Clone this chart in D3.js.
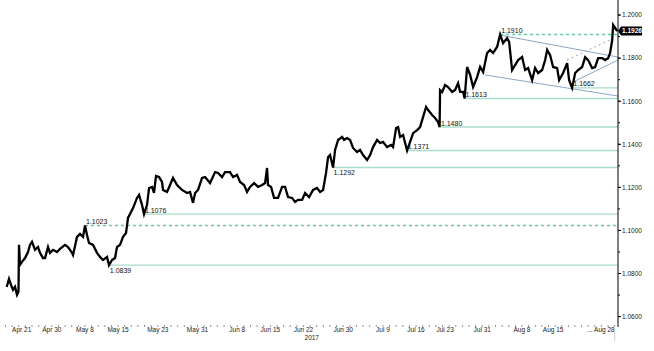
<!DOCTYPE html>
<html>
<head>
<meta charset="utf-8">
<script src="https://cdn.jsdelivr.net/npm/d3@7"></script>
<style>
  body { margin: 0; background: #fff; }
  text { font-family: "Liberation Sans", Arial, sans-serif; }
</style>
</head>
<body>
<svg id="chart" width="654" height="351"></svg>
<script>
// trading-day index (0 = Thu Apr 20 2017) and EUR/USD price
const dayIndex = [
  0.18, 0.53, 0.83, 1.13, 1.44, 1.74, 1.96, 2.04, 2.19, 2.49, 2.95, 3.40, 3.70, 4.00, 4.46, 4.91,
  5.21, 5.66, 5.97, 6.42, 6.72, 7.18, 7.78, 8.23, 8.99, 9.44, 10.05, 10.20, 10.80, 11.25, 11.71,
  12.01, 12.31, 12.61, 13.22, 13.82, 14.27, 14.73, 15.33, 15.63, 16.09, 16.54, 16.84, 17.30, 17.75,
  18.20, 18.50, 18.96, 19.26, 19.86, 20.17, 20.62, 20.92, 21.37, 21.68, 22.13, 22.43, 22.73, 23.19,
  23.64, 23.79, 24.40, 24.85, 25.30, 25.91, 26.66, 27.42, 27.87, 28.32, 28.63, 29.08, 29.68, 30.14,
  30.89, 31.65, 32.10, 32.70, 33.16, 33.91, 34.37, 34.97, 35.42, 36.03, 36.48, 36.93, 37.54, 38.14,
  38.75, 39.20, 39.50, 39.65, 40.11, 40.56, 41.16, 41.77, 42.22, 42.67, 43.28, 43.73, 44.18, 44.79,
  45.24, 45.85, 46.45, 47.05, 47.51, 47.96, 48.41, 48.72, 49.02, 49.47, 49.77, 50.23, 50.83, 51.13,
  51.59, 52.04, 52.49, 53.10, 53.55, 54.00, 54.61, 55.06, 55.51, 56.12, 56.57, 57.02, 57.63, 58.23,
  58.53, 58.99, 59.29, 59.59, 60.05, 60.35, 60.65, 61.10, 61.56, 62.16, 62.61, 63.07, 63.52, 63.82,
  64.43, 64.88, 65.33, 65.56, 65.63, 65.94, 66.39, 66.84, 67.45, 67.90, 68.35, 68.66, 69.11, 69.34,
  69.71, 70.17, 70.62, 71.22, 71.68, 72.13, 72.73, 73.19, 73.64, 74.24, 74.70, 75.15, 75.76, 76.06,
  76.51, 76.96, 77.42, 78.02, 78.47, 78.93, 79.53, 79.98, 80.44, 81.04, 81.50, 81.80, 82.25, 82.70,
  83.31, 83.61, 84.21, 84.82, 85.12, 85.57, 86.03, 86.48, 87.08, 87.54, 87.99, 88.59, 89.05, 89.50,
  90.11, 90.56, 91.01, 91.31, 91.62, 91.77, 92.07, 92.37
];
const closePrice = [
  1.0738, 1.0775, 1.0747, 1.0724, 1.0738, 1.0701, 1.0715, 1.0933, 1.0840, 1.0854, 1.0872, 1.0900, 1.0933, 1.0947, 1.0910, 1.0923,
  1.0896, 1.0872, 1.0872, 1.0923, 1.0896, 1.0910, 1.0900, 1.0914, 1.0933, 1.0923, 1.0896, 1.0886, 1.0970, 1.0984, 1.0970,
  1.1023, 1.0979, 1.0942, 1.0933, 1.0896, 1.0877, 1.0863, 1.0877, 1.0839, 1.0863, 1.0872, 1.0923, 1.0933, 1.0970,
  1.0988, 1.1058, 1.1086, 1.1104, 1.1151, 1.1165, 1.1118, 1.1076, 1.1118, 1.1197, 1.1202, 1.1174, 1.1253, 1.1248,
  1.1225, 1.1188, 1.1179, 1.1211, 1.1244, 1.1211, 1.1188, 1.1174, 1.1179, 1.1128, 1.1174, 1.1188, 1.1244, 1.1248,
  1.1220, 1.1271, 1.1267, 1.1248, 1.1271, 1.1271, 1.1248, 1.1258, 1.1225, 1.1211, 1.1179, 1.1202, 1.1220, 1.1202,
  1.1211, 1.1220, 1.1290, 1.1211, 1.1202, 1.1151, 1.1151, 1.1202, 1.1202, 1.1155, 1.1151, 1.1132, 1.1142, 1.1142,
  1.1174, 1.1155, 1.1188, 1.1197, 1.1179, 1.1188, 1.1267, 1.1341, 1.1350, 1.1292, 1.1374, 1.1420, 1.1434, 1.1420,
  1.1429, 1.1420, 1.1383, 1.1364, 1.1374, 1.1350, 1.1327, 1.1350, 1.1387, 1.1420, 1.1406, 1.1411, 1.1387, 1.1397,
  1.1387, 1.1476, 1.1480, 1.1434, 1.1443, 1.1406, 1.1371, 1.1411, 1.1452, 1.1466, 1.1480, 1.1527, 1.1573, 1.1559,
  1.1536, 1.1522, 1.1503, 1.1480, 1.1652, 1.1643, 1.1675, 1.1666, 1.1643, 1.1652, 1.1684, 1.1643, 1.1643, 1.1613,
  1.1759, 1.1722, 1.1666, 1.1712, 1.1759, 1.1735, 1.1824, 1.1838, 1.1824, 1.1852, 1.1910, 1.1870, 1.1893, 1.1875,
  1.1745, 1.1768, 1.1791, 1.1805, 1.1745, 1.1754, 1.1698, 1.1754, 1.1731, 1.1745, 1.1791, 1.1838, 1.1814, 1.1759,
  1.1754, 1.1698, 1.1731, 1.1777, 1.1698, 1.1662, 1.1731, 1.1745, 1.1759, 1.1805, 1.1791, 1.1754, 1.1759, 1.1800,
  1.1800, 1.1791, 1.1800, 1.1824, 1.1884, 1.1954, 1.1940, 1.1926
];

// support / resistance levels
const levelPrices = [1.1910, 1.1662, 1.1613, 1.1480, 1.1371, 1.1292, 1.1076, 1.1023, 1.0839];
const levelStartDay = [74.7, 85.6, 69.3, 65.6, 60.6, 49.4, 20.9, 12.0, 15.6];
const levelDashed = [true, false, false, false, false, false, false, true, false];
const levelLabelBelow = [false, false, false, false, false, true, false, false, true];

// trend lines: [startDay, startPrice, endDay, endPrice]
const trendLines = [
  [74.7, 1.1907, 92.5, 1.1805],
  [72.4, 1.1722, 92.5, 1.1624],
  [85.7, 1.1689, 92.5, 1.1791]
];
const dottedTrend = [84.8, 1.1791, 91.6, 1.1889];

// axis labels
const xTickDays = [1, 7, 12, 17, 23, 29, 35, 40, 45, 51, 57, 62, 66.4, 72, 78, 82.7, 92];
const xTickLabels = ["Apr 21", "Apr 30", "May 8", "May 15", "May 23", "May 31", "Jun 8", "Jun 15",
  "Jun 22", "Jun 30", "Jul 9", "Jul 16", "Jul 23", "Jul 31", "Aug 8", "Aug 15", "... Aug 28"];
const yearLabel = "2017";
const yTicks = [1.06, 1.08, 1.10, 1.12, 1.14, 1.16, 1.18, 1.20];
const lastPrice = 1.1926;

const svg = d3.select("#chart");
const plotRight = 618, plotBottom = 325;

const x = d3.scaleLinear().domain([0, 92.5]).range([5.5, plotRight]);
const y = d3.scaleLinear().domain([1.0561, 1.2070]).range([plotBottom, 0]);

// horizontal levels
levelPrices.forEach((p, i) => {
  svg.append("line")
    .attr("x1", x(levelStartDay[i])).attr("x2", plotRight)
    .attr("y1", y(p)).attr("y2", y(p))
    .attr("stroke", levelDashed[i] ? "#62c9a9" : "#a8dccb")
    .attr("stroke-width", 1.4)
    .attr("stroke-dasharray", levelDashed[i] ? "3,3" : null);
});

// trend lines
trendLines.forEach(t => {
  svg.append("line")
    .attr("x1", x(t[0])).attr("y1", y(t[1]))
    .attr("x2", x(t[2])).attr("y2", y(t[3]))
    .attr("stroke", "#8da7c2").attr("stroke-width", 1);
});
svg.append("line")
  .attr("x1", x(dottedTrend[0])).attr("y1", y(dottedTrend[1]))
  .attr("x2", x(dottedTrend[2])).attr("y2", y(dottedTrend[3]))
  .attr("stroke", "#8da7c2").attr("stroke-width", 1)
  .attr("stroke-dasharray", "2,3");

// price line
const series = dayIndex.map((d, i) => [d, closePrice[i]]);
svg.append("path")
  .datum(series)
  .attr("fill", "none")
  .attr("stroke", "#000")
  .attr("stroke-width", 2.3)
  .attr("stroke-linejoin", "miter")
  .attr("d", d3.line().x(d => x(d[0])).y(d => y(d[1])));

// level labels
levelPrices.forEach((p, i) => {
  svg.append("text")
    .attr("x", x(levelStartDay[i]) + 1)
    .attr("y", levelLabelBelow[i] ? y(p) + 7.5 : y(p) - 1.5)
    .attr("font-size", 7)
    .attr("fill", "#111")
    .text(p.toFixed(4));
});

// right axis
const yAxis = svg.append("g").attr("transform", `translate(${plotRight},0)`);
yAxis.append("line").attr("x1", 0).attr("x2", 0).attr("y1", 0).attr("y2", plotBottom + 2)
  .attr("stroke", "#000").attr("stroke-width", 1);
const minorY = d3.range(1.06, 1.2051, 0.01);
yAxis.selectAll("line.minor").data(minorY).join("line")
  .attr("class", "minor")
  .attr("x1", 0).attr("x2", 2)
  .attr("y1", d => y(d)).attr("y2", d => y(d))
  .attr("stroke", "#000");
yAxis.selectAll("line.major").data(yTicks).join("line")
  .attr("class", "major")
  .attr("x1", 0).attr("x2", 3)
  .attr("y1", d => y(d)).attr("y2", d => y(d))
  .attr("stroke", "#000");
yAxis.selectAll("text").data(yTicks).join("text")
  .attr("x", 4).attr("y", d => y(d) + 2.3)
  .attr("font-size", 6.5).attr("fill", "#222")
  .text(d => d.toFixed(4));

// last price tag
const ly = y(lastPrice);
svg.append("path")
  .attr("d", `M${plotRight},${ly} L${plotRight + 3},${ly - 4.5} H${plotRight + 24} V${ly + 4.5} H${plotRight + 3} Z`)
  .attr("fill", "#000");
svg.append("text")
  .attr("x", plotRight + 4).attr("y", ly + 2.4)
  .attr("font-size", 6.5).attr("fill", "#fff").attr("font-weight", "bold")
  .text(lastPrice.toFixed(4));

// bottom axis: a tick per trading day
svg.selectAll("line.xtick").data(d3.range(0, 93)).join("line")
  .attr("class", "xtick")
  .attr("x1", d => x(d)).attr("x2", d => x(d))
  .attr("y1", plotBottom).attr("y2", plotBottom + 2)
  .attr("stroke", "#777").attr("stroke-width", 0.8);

svg.selectAll("text.xlabel").data(xTickDays).join("text")
  .attr("class", "xlabel")
  .attr("x", (d, i) => x(d))
  .attr("y", 332)
  .attr("text-anchor", (d, i) => i === 0 ? "start" : (i === xTickDays.length - 1 ? "end" : "middle"))
  .attr("font-size", 6.5).attr("fill", "#222")
  .text((d, i) => xTickLabels[i]);

svg.append("text")
  .attr("x", (x.range()[0] + x.range()[1]) / 2).attr("y", 340)
  .attr("text-anchor", "middle")
  .attr("font-size", 6.5).attr("fill", "#222")
  .text(yearLabel);

svg.append("line")
  .attr("x1", x(92)).attr("x2", x(92)).attr("y1", 329).attr("y2", 341)
  .attr("stroke", "#ccc");
</script>
</body>
</html>
